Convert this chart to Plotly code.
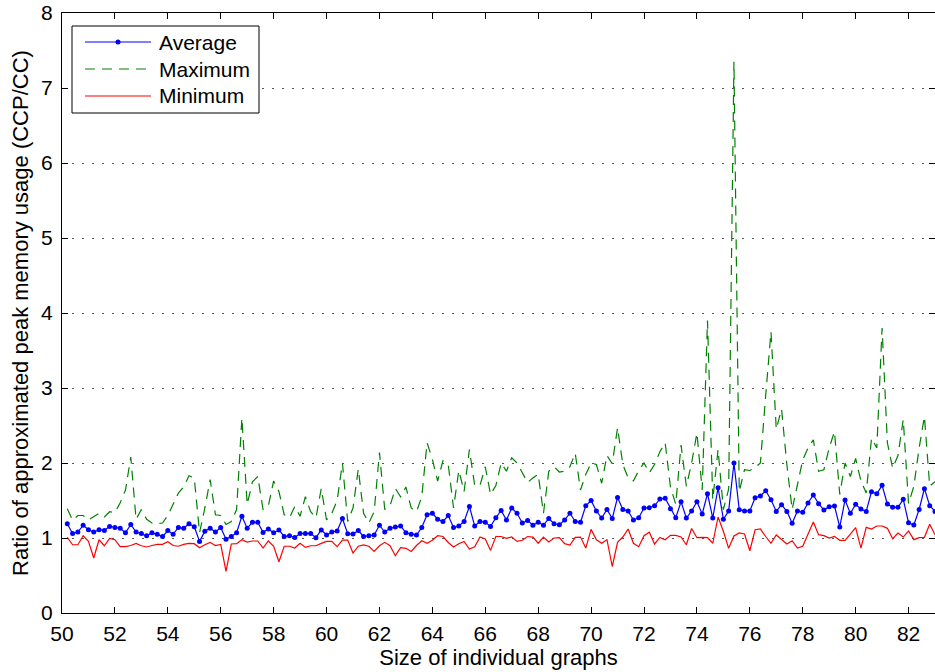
import numpy as np
import plotly.graph_objects as go

# Graph sizes sampled every 0.2 from 50.2 to 83.0
graph_size = np.round(np.arange(50.2, 83.0 + 1e-9, 0.2), 1)

# Ratio of approximated peak memory usage (CCP/CC) per graph size
ratio_avg = [
    # 50.2 - 55.6
    1.19, 1.06, 1.08, 1.17, 1.11, 1.08, 1.11, 1.10, 1.155, 1.14, 1.13, 1.07, 1.18, 1.08,
    1.06, 1.03, 1.07, 1.05, 1.02, 1.10, 1.05, 1.14, 1.13, 1.19, 1.15, 0.955, 1.09, 1.13,
    # 55.8 - 61.0
    1.08, 1.14, 0.985, 1.02, 1.07, 1.29, 1.13, 1.21, 1.21, 1.075, 1.12, 1.07, 1.107, 1.02,
    1.03, 1.008, 1.06, 1.06, 1.06, 1.004, 1.107, 1.04, 1.08, 1.093, 1.26, 1.058, 1.053,
    # 61.2 - 66.4
    1.10, 1.02, 1.03, 1.04, 1.17, 1.08, 1.13, 1.146, 1.16, 1.07, 1.05, 1.04, 1.14, 1.31,
    1.33, 1.25, 1.22, 1.30, 1.14, 1.16, 1.22, 1.42, 1.16, 1.22, 1.21, 1.155, 1.27,
    # 66.6 - 72.0
    1.367, 1.24, 1.40, 1.33, 1.20, 1.235, 1.17, 1.21, 1.17, 1.26, 1.19, 1.177, 1.24, 1.33,
    1.22, 1.21, 1.43, 1.50, 1.36, 1.266, 1.38, 1.26, 1.54, 1.38, 1.36, 1.24, 1.27, 1.40,
    # 72.2 - 77.4
    1.404, 1.43, 1.52, 1.53, 1.39, 1.27, 1.484, 1.266, 1.36, 1.484, 1.32, 1.59, 1.266, 1.67,
    1.25, 1.36, 2.00, 1.378, 1.36, 1.36, 1.537, 1.56, 1.63, 1.51, 1.355, 1.444, 1.355,
    # 77.6 - 83.0
    1.196, 1.36, 1.342, 1.467, 1.573, 1.458, 1.373, 1.418, 1.427, 1.147, 1.507, 1.329, 1.449, 1.387,
    1.355, 1.618, 1.59, 1.702, 1.453, 1.409, 1.409, 1.516, 1.204, 1.173, 1.38, 1.658, 1.431, 1.355,
]

ratio_max = [
    # 50.2 - 55.6
    1.39, 1.235, 1.30, 1.30, 1.24, 1.28, 1.33, 1.28, 1.35, 1.34, 1.47, 1.64, 2.08, 1.25,
    1.38, 1.25, 1.20, 1.19, 1.20, 1.30, 1.46, 1.60, 1.68, 1.83, 1.80, 1.07, 1.40, 1.78,
    # 55.8 - 61.0
    1.31, 1.30, 1.18, 1.22, 1.38, 2.60, 1.45, 1.75, 1.82, 1.38, 1.43, 1.76, 1.62, 1.31,
    1.27, 1.42, 1.29, 1.55, 1.35, 1.27, 1.66, 1.24, 1.33, 1.50, 2.00, 1.22, 1.40,
    # 61.2 - 66.4
    1.92, 1.33, 1.20, 1.35, 2.14, 1.38, 1.43, 1.66, 1.55, 1.68, 1.40, 1.35, 1.55, 2.27,
    2.05, 1.76, 2.03, 1.98, 1.40, 1.90, 1.62, 2.18, 1.70, 1.70, 1.95, 1.58, 1.70,
    # 66.6 - 72.0
    2.00, 1.89, 2.07, 2.00, 1.87, 1.74, 1.80, 1.85, 1.33, 1.89, 1.95, 1.88, 1.89, 1.95,
    2.13, 1.64, 1.85, 2.00, 1.98, 1.73, 2.10, 1.99, 2.47, 1.98, 1.80, 1.76, 1.90, 2.00,
    # 72.2 - 77.4
    1.87, 1.98, 2.15, 2.27, 1.68, 1.45, 2.24, 1.69, 2.00, 2.40, 1.64, 3.90, 1.51, 2.18,
    1.38, 1.65, 7.35, 1.62, 1.91, 1.90, 1.94, 2.00, 2.90, 3.75, 2.45, 2.72, 1.98,
    # 77.6 - 83.0
    1.38, 1.71, 2.04, 2.20, 2.31, 1.89, 1.91, 2.20, 2.42, 1.58, 2.00, 1.82, 2.06, 1.76,
    1.60, 2.33, 2.20, 3.80, 2.27, 1.93, 2.10, 2.58, 1.46, 1.69, 2.20, 2.62, 1.69, 1.75,
]

ratio_min = [
    # 50.2 - 55.6
    1.008, 0.91, 0.91, 1.03, 0.955, 0.733, 0.977, 0.897, 0.995, 0.977, 0.884, 0.884, 0.90, 0.928,
    0.897, 0.88, 0.90, 0.915, 0.915, 0.95, 0.90, 0.89, 0.915, 0.928, 0.924, 0.87, 0.91, 0.942,
    # 55.8 - 61.0
    0.90, 0.915, 0.555, 0.92, 0.924, 0.977, 0.946, 0.96, 0.96, 0.866, 0.96, 0.89, 0.684, 0.89,
    0.89, 0.866, 0.93, 0.875, 0.897, 0.897, 0.928, 0.955, 0.955, 0.884, 0.973, 0.973, 0.80,
    # 61.2 - 66.4
    0.89, 0.907, 0.89, 0.82, 0.897, 0.942, 0.897, 0.764, 0.87, 0.862, 0.82, 0.90, 0.964, 0.93,
    0.97, 1.03, 1.02, 0.94, 0.88, 0.924, 0.955, 0.853, 0.884, 1.013, 0.986, 0.835, 1.02,
    # 66.6 - 72.0
    1.02, 0.995, 1.013, 0.955, 0.97, 1.02, 1.013, 0.93, 1.013, 0.946, 1.0, 1.004, 0.924, 0.907,
    1.008, 1.013, 0.866, 1.115, 0.977, 0.93, 0.977, 0.62, 0.942, 1.013, 1.12, 0.93, 0.884, 1.03,
    # 72.2 - 77.4
    1.078, 0.92, 1.008, 0.977, 1.035, 1.035, 1.013, 0.91, 1.127, 1.004, 1.008, 1.004, 0.93, 1.28,
    1.09, 0.862, 1.027, 1.067, 1.053, 0.83, 1.11, 1.12, 1.02, 0.93, 1.04, 0.986, 0.92,
    # 77.6 - 83.0
    0.964, 0.866, 0.889, 1.04, 1.213, 1.044, 1.031, 1.0, 1.022, 0.969, 0.969, 1.053, 1.138, 0.866,
    1.142, 1.12, 1.16, 1.16, 1.129, 0.991, 1.067, 1.013, 1.093, 0.978, 1.004, 1.009, 1.182, 1.044,
]

x_ticks = list(range(50, 83, 2))
y_ticks = list(range(0, 9))

series_names = ["Average", "Maximum", "Minimum"]
series_colors = ["#0000ff", "#008000", "#ff0000"]
series_dash = ["solid", "10px,7px", "solid"]

FONT = "Liberation Sans, Arial, Helvetica, sans-serif"

W, H = 935, 672
M_L, M_R, M_T, M_B = 62, 0, 13, 59
PLOT_W = W - M_L - M_R
PLOT_H = H - M_T - M_B

fig = go.Figure()
fig.add_trace(go.Scatter(
    x=graph_size, y=ratio_avg, name=series_names[0], mode="lines+markers",
    line=dict(color=series_colors[0], width=1.2),
    marker=dict(color=series_colors[0], size=5),
))
fig.add_trace(go.Scatter(
    x=graph_size, y=ratio_max, name=series_names[1], mode="lines",
    line=dict(color=series_colors[1], width=1.2, dash=series_dash[1]),
))
fig.add_trace(go.Scatter(
    x=graph_size, y=ratio_min, name=series_names[2], mode="lines",
    line=dict(color=series_colors[2], width=1.2),
))


# Legend box drawn in paper space (pixel offsets from the top-left of the plot area)
def px_x(p):
    return (p - M_L) / PLOT_W


def px_y(p):
    return 1 - (p - M_T) / PLOT_H


shapes = [dict(
    type="rect", xref="paper", yref="paper",
    x0=px_x(72), x1=px_x(259), y0=px_y(113), y1=px_y(26),
    line=dict(color="black", width=1), fillcolor="white", layer="above",
)]
annotations = []
row_y = [42, 69, 96]
for name, color, dash, ry in zip(series_names, series_colors, series_dash, row_y):
    shapes.append(dict(
        type="line", xref="paper", yref="paper",
        x0=px_x(85), x1=px_x(151), y0=px_y(ry), y1=px_y(ry),
        line=dict(color=color, width=1.2, dash=dash), layer="above",
    ))
    annotations.append(dict(
        xref="paper", yref="paper", x=px_x(157), y=px_y(ry),
        xanchor="left", yanchor="middle", text=name, showarrow=False,
        font=dict(family=FONT, size=21, color="black"),
    ))
# marker dot on the Average sample
shapes.append(dict(
    type="circle", xref="paper", yref="paper",
    x0=px_x(115.5), x1=px_x(120.5), y0=px_y(row_y[0] + 2.5), y1=px_y(row_y[0] - 2.5),
    line=dict(color=series_colors[0], width=0), fillcolor=series_colors[0], layer="above",
))

axis_common = dict(
    showline=True, linecolor="black", linewidth=1, mirror="ticks",
    ticks="inside", ticklen=6, tickwidth=1, tickcolor="black",
    zeroline=False, tickfont=dict(family=FONT, size=21, color="black"),
)

fig.update_layout(
    width=W, height=H,
    margin=dict(l=M_L, r=M_R, t=M_T, b=M_B, autoexpand=False),
    paper_bgcolor="white", plot_bgcolor="white",
    font=dict(family=FONT, size=21, color="black"),
    showlegend=False,
    shapes=shapes,
    annotations=annotations,
    xaxis=dict(
        range=[50, 83], tickvals=x_ticks, showgrid=False,
        title=dict(text="Size of individual graphs", standoff=4,
                   font=dict(family=FONT, size=22, color="black")),
        ticklabelstandoff=2, automargin=False,
        **axis_common,
    ),
    yaxis=dict(
        range=[0, 8], tickvals=y_ticks,
        showgrid=True, gridcolor="#555555", gridwidth=1, griddash="2px,8px",
        title=dict(text="Ratio of approximated peak memory usage (CCP/CC)", standoff=6,
                   font=dict(family=FONT, size=22, color="black")),
        ticklabelstandoff=4, automargin=False,
        **axis_common,
    ),
)

fig.write_html("out.html")
